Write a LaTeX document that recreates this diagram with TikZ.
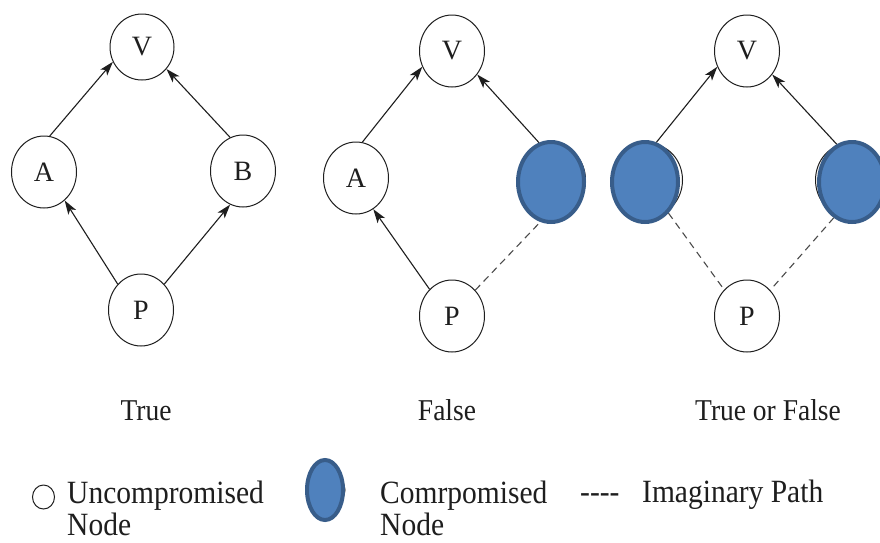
\documentclass[tikz,border=0pt]{standalone}
\usepackage{fontspec}
\setmainfont{Liberation Serif}
\usetikzlibrary{arrows.meta,shapes.geometric}
\definecolor{cfill}{HTML}{4F81BD}
\definecolor{cedge}{HTML}{385D8A}
\definecolor{ink}{HTML}{1E1E1E}
\begin{document}
\begin{tikzpicture}[x=1pt,y=-1pt,
  unode/.style={ellipse,draw=ink,line width=1pt,fill=white,inner sep=0pt,
    minimum width=65pt,minimum height=72pt,text=ink,font=\fontsize{28}{30}\selectfont},
  cnode/.style={ellipse,draw=cedge,fill=cfill,line width=4pt,inner sep=0pt,
    minimum width=66pt,minimum height=80pt},
  edgearrow/.style={draw=ink,line width=1.1pt,-{Stealth[length=14pt,width=9pt,inset=3.5pt]}},
  imag/.style={draw=ink!80,line width=1.1pt,dash pattern=on 7pt off 5pt},
  lbl/.style={font=\fontsize{27.5}{30}\selectfont,text=ink,anchor=base,inner sep=0pt},
  leg/.style={font=\fontsize{29.5}{30}\selectfont,text=ink,anchor=base west,inner sep=0pt}]
\useasboundingbox (0,0) rectangle (880,542);
\fill[white] (0,0) rectangle (880,542);

% ---------- Diagram 1 : True ----------
\node[unode,minimum width=64pt,minimum height=66pt] (V1) at (142,47) {V};
\node[unode] (A1) at (44,172) {A};
\node[unode] (B1) at (243,171) {B};
\node[unode] (P1) at (141,310) {P};
\draw[edgearrow] (A1.81) -- (V1.207);
\draw[edgearrow] (B1.111) -- (V1.318);
\draw[edgearrow] (P1.132) -- (A1.306);
\draw[edgearrow] (P1.48) -- (B1.249);
\node[lbl] (t1) at (146,420) {\scalebox{1}[1.1]{True}};

% ---------- Diagram 2 : False ----------
\node[unode] (V2) at (452,51) {V};
\node[unode] (A2) at (356,178) {A};
\node[unode] (B2w) at (553,180) {};
\node[cnode] (B2) at (551,182) {};
\node[unode] (P2) at (452,316) {P};
\draw[edgearrow] (A2.80) -- (V2.208);
\draw[edgearrow] (B2.107) -- (V2.317);
\draw[edgearrow] (P2.130) -- (A2.299);
\draw[imag] (P2.48) -- (B2.255);
\node[lbl] (t2) at (447,420) {\scalebox{1}[1.1]{False}};

% ---------- Diagram 3 : True or False ----------
\node[unode] (V3) at (747,51) {V};
\node[unode] (A3w) at (650,180) {};
\node[cnode] (A3) at (645,182) {};
\node[unode] (B3w) at (848,180) {};
\node[cnode] (B3) at (852,182) {};
\node[unode] (P3) at (747,316) {P};
\draw[edgearrow] (A3.74) -- (V3.208);
\draw[edgearrow] (B3.112) -- (V3.317);
\draw[imag] (A3.307) -- (P3.131);
\draw[imag] (B3.243) -- (P3.48);
\node[lbl] (t3) at (768,420) {\scalebox{1}[1.1]{True or False}};

% ---------- Legend ----------
\node[ellipse,draw=ink,line width=1pt,fill=white,inner sep=0pt,
  minimum width=22pt,minimum height=24pt] (lu) at (43.5,497) {};
\node[leg] (lu1) at (67,503) {\scalebox{1}[1.1]{Uncompromised}};
\node[leg] (lu2) at (67,535) {\scalebox{1}[1.1]{Node}};

\node[ellipse,draw=ink,line width=1pt,fill=white,inner sep=0pt,
  minimum width=22pt,minimum height=26pt] (lcw) at (334,490) {};
\node[cnode,minimum width=36pt,minimum height=60pt] (lc) at (325,490) {};
\node[leg] (lc1) at (380,503) {\scalebox{1}[1.1]{Comrpomised}};
\node[leg] (lc2) at (380,535) {\scalebox{1}[1.1]{Node}};

\node[leg] (ld) at (580,502) {\scalebox{1}[1.1]{-{}-{}-{}-}};
\node[leg] (li) at (642,502) {\scalebox{1}[1.1]{Imaginary Path}};
\end{tikzpicture}
\end{document}
